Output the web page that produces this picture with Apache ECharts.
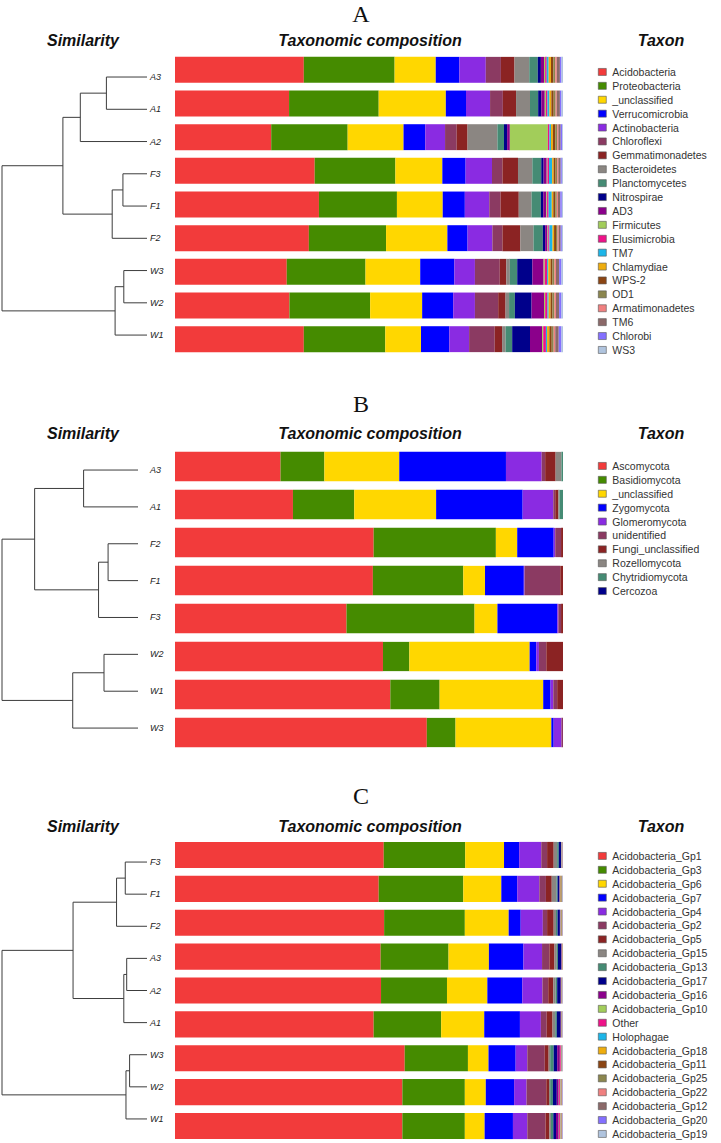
<!DOCTYPE html>
<html>
<head>
<meta charset="utf-8">
<script src="https://cdn.jsdelivr.net/npm/echarts@6/dist/echarts.min.js"></script>
<style>
html,body{margin:0;padding:0;background:#fff;}
#c{width:721px;height:1143px;}
</style>
</head>
<body>
<div id="c"></div>
<script>
// ---------- DATA ----------
const samplesA = ['A3','A1','A2','F3','F1','F2','W3','W2','W1'];
const taxaA = ['Acidobacteria','Proteobacteria','_unclassified','Verrucomicrobia','Actinobacteria','Chloroflexi','Gemmatimonadetes','Bacteroidetes','Planctomycetes','Nitrospirae','AD3','Firmicutes','Elusimicrobia','TM7','Chlamydiae','WPS-2','OD1','Armatimonadetes','TM6','Chlorobi','WS3'];
// rows follow samplesA, columns follow taxaA (relative abundance, %)
const compA = [
  [33.2,23.4,10.6,6.1,6.8,3.9,3.5,3.8,2.2,0.8,0.8,0.3,0.4,0.5,0.6,0.6,0.5,0.4,0.8,0.4,0.4],
  [29.4,23.1,17.3,5.2,6.2,3.3,3.4,3.6,2.1,0.8,0.9,0.3,0.4,0.5,0.5,0.6,0.5,0.3,0.8,0.4,0.4],
  [24.8,19.7,14.4,5.6,5.1,3.0,2.8,7.7,1.7,0.8,0.7,9.8,0.4,0.4,0.5,0.6,0.5,0.3,0.6,0.4,0.2],
  [36.0,20.8,12.1,6.0,6.8,2.7,4.0,3.7,2.3,0.6,0.8,0.2,0.4,0.8,0.4,0.5,0.4,0.3,0.6,0.3,0.3],
  [37.1,20.1,11.8,5.7,6.3,2.9,4.7,3.3,2.4,0.6,0.8,0.2,0.4,0.8,0.4,0.5,0.4,0.3,0.6,0.4,0.3],
  [34.5,19.9,15.8,5.2,6.4,2.6,4.6,3.4,2.4,0.6,0.6,0.2,0.3,0.8,0.4,0.5,0.4,0.3,0.5,0.3,0.3],
  [28.8,20.3,14.1,8.8,5.3,6.4,1.7,0.9,1.9,3.9,2.9,0.3,0.6,0.3,0.6,0.5,0.5,0.4,0.8,0.6,0.4],
  [29.5,20.8,13.4,8.0,5.6,6.0,1.9,0.9,1.5,4.3,3.2,0.3,0.6,0.3,0.5,0.5,0.5,0.4,0.8,0.6,0.4],
  [33.2,21.0,9.2,7.3,5.1,6.6,1.9,0.9,1.7,4.6,3.1,0.3,0.7,0.3,0.6,0.6,0.5,0.4,0.9,0.7,0.4]
];
// dendrogram merges: [child, child, height]; '#k' = k-th merge
const treeA = [['A3','A1',0.28],['#0','A2',0.46],['F3','F1',0.166],['#2','F2',0.24],['#1','#3',0.58],['W3','W2',0.16],['#5','W1',0.22],['#4','#6',1.0]];

const samplesB = ['A3','A1','F2','F1','F3','W2','W1','W3'];
const taxaB = ['Ascomycota','Basidiomycota','_unclassified','Zygomycota','Glomeromycota','unidentified','Fungi_unclassified','Rozellomycota','Chytridiomycota','Cercozoa'];
const compB = [
  [27.2,11.3,19.3,27.5,9.2,0.9,2.7,1.5,0.4,0],
  [30.4,15.8,21.1,22.3,7.9,0.5,0.8,0.3,0.9,0],
  [51.2,31.5,5.5,9.4,0.4,1.5,0.5,0,0,0],
  [51.0,23.3,5.6,10.0,0.2,9.2,0.7,0,0,0],
  [44.2,33.0,5.9,15.4,0.3,0.7,0.5,0,0,0],
  [53.6,6.8,31.0,1.7,0.7,1.9,4.3,0,0,0],
  [55.5,12.7,26.7,1.9,0.7,1.0,1.5,0,0,0],
  [64.9,7.4,24.7,0.6,2.0,0.4,0,0,0,0]
];
const treeB = [['A3','A1',0.40],['F2','F1',0.22],['#1','F3',0.29],['#0','#2',0.76],['W2','W1',0.25],['#4','W3',0.48],['#3','#5',1.0]];

const samplesC = ['F3','F1','F2','A3','A2','A1','W3','W2','W1'];
const taxaC = ['Acidobacteria_Gp1','Acidobacteria_Gp3','Acidobacteria_Gp6','Acidobacteria_Gp7','Acidobacteria_Gp4','Acidobacteria_Gp2','Acidobacteria_Gp5','Acidobacteria_Gp15','Acidobacteria_Gp13','Acidobacteria_Gp17','Acidobacteria_Gp16','Acidobacteria_Gp10','Other','Holophagae','Acidobacteria_Gp18','Acidobacteria_Gp11','Acidobacteria_Gp25','Acidobacteria_Gp22','Acidobacteria_Gp12','Acidobacteria_Gp20','Acidobacteria_Gp19'];
const compC = [
  [53.8,21.0,10.0,3.9,5.7,1.5,1.7,0.9,0.4,0.6,0.05,0.05,0.05,0.05,0.05,0.05,0.05,0.05,0.05,0.03,0.02],
  [52.5,21.8,9.8,4.1,5.7,1.7,1.5,1.2,0.3,0.5,0.05,0.05,0.05,0.05,0.1,0.1,0.2,0.05,0.1,0.05,0.1],
  [53.9,20.8,11.3,3.1,5.7,1.1,1.7,0.6,0.4,0.6,0.1,0.05,0.05,0.05,0.1,0.1,0.1,0.05,0.1,0.05,0.05],
  [53.0,17.5,10.4,8.9,4.8,1.9,1.3,0.6,0.3,0.9,0.05,0.05,0.05,0.05,0.05,0.05,0.05,0.05,0,0,0],
  [53.1,17.0,10.4,9.0,5.2,1.5,1.3,0.6,0.4,0.9,0.1,0.05,0.05,0.05,0.05,0.05,0.05,0.05,0.05,0.05,0.05],
  [51.2,17.4,11.1,9.2,5.4,1.5,1.5,0.7,0.4,1.0,0.1,0.05,0.05,0.05,0.05,0.05,0.05,0.05,0.05,0.05,0.05],
  [59.2,16.3,5.3,7.0,3.0,4.5,1.0,0.4,0.9,0.9,0.7,0.1,0.2,0.1,0.05,0.05,0.05,0.1,0.05,0.05,0.05],
  [58.6,16.1,5.4,7.3,3.2,5.1,0.7,0.3,0.7,1.0,0.5,0.1,0.3,0.1,0.1,0.1,0.1,0.1,0.05,0.1,0.05],
  [58.6,16.1,5.1,7.3,3.7,4.7,1.0,0.4,0.6,0.7,0.7,0.1,0.3,0.1,0.1,0.1,0.1,0.1,0.05,0.1,0.05]
];
const treeC = [['F3','F1',0.15],['#0','F2',0.21],['A3','A2',0.14],['#2','A1',0.16],['#1','#3',0.51],['W3','W2',0.12],['#5','W1',0.145],['#4','#6',1.0]];

const palette = ['#F23B3B','#458B00','#FFD700','#0000FF','#8A2BE2','#8B3A62','#8B2323','#8B8682','#458B74','#00008B','#8B008B','#A2CD5A','#EE1289','#1CB5E8','#EEAD0E','#8B4513','#8B864E','#F08080','#8B6969','#8470FF','#B0C4DE'];

// ---------- LAYOUT ----------
const panels = [
  {samples:samplesA, taxa:taxaA, comp:compA, tree:treeA, bar:{top:53, height:303}, den:{left:2, width:145, top:60.9, height:290.3, margin:3}, legendTop:65, letter:'A', letterY:14, headY:40},
  {samples:samplesB, taxa:taxaB, comp:compB, tree:treeB, bar:{top:447.5, height:304}, den:{left:2, width:136, top:451.6, height:294.9, margin:12}, legendTop:459, letter:'B', letterY:404, headY:433},
  {samples:samplesC, taxa:taxaC, comp:compC, tree:treeC, bar:{top:838, height:305}, den:{left:2, width:145, top:846, height:289, margin:3}, legendTop:849, letter:'C', letterY:796, headY:826}
];

function dendroSegments(samples, tree){
  const nodes = [];
  const get = k => k.charAt(0)==='#' ? nodes[+k.slice(1)] : {y:samples.indexOf(k), h:0};
  const segs = [];
  tree.forEach(([a,b,h])=>{
    const na=get(a), nb=get(b);
    segs.push([na.h, na.y, nb.h, nb.y, h]);
    nodes.push({y:(na.y+nb.y)/2, h:h});
  });
  return segs;
}

const grid=[], xAxis=[], yAxis=[], series=[], legend=[], graphic=[];
const hdrFont = {fontSize:16, fontWeight:'bold', fontStyle:'italic', fontFamily:'"Liberation Sans", Arial, sans-serif', fill:'#111', align:'center', verticalAlign:'middle'};

panels.forEach((p, pi)=>{
  // dendrogram grid
  const gD = grid.length;
  grid.push({left:p.den.left, width:p.den.width, top:p.den.top, height:p.den.height});
  const xD = xAxis.length;
  xAxis.push({type:'value', gridIndex:gD, min:0, max:1, inverse:true, show:false});
  const yDv = yAxis.length;
  yAxis.push({type:'value', gridIndex:gD, min:-0.5, max:p.samples.length-0.5, inverse:true, show:false});
  yAxis.push({type:'category', gridIndex:gD, data:p.samples, inverse:true, position:'right',
    axisLine:{show:false}, axisTick:{show:false}, splitLine:{show:false},
    axisLabel:{margin:p.den.margin, fontSize:9, fontStyle:'italic', color:'#222', fontFamily:'"Liberation Sans", Arial, sans-serif'}});
  series.push({
    type:'custom', xAxisIndex:xD, yAxisIndex:yDv, silent:true, animation:false, clip:false,
    encode:{x:[0,2,4], y:[1,3]},
    data: dendroSegments(p.samples, p.tree),
    renderItem:(params, api)=>{
      const a=api.coord([api.value(0), api.value(1)]);
      const b=api.coord([api.value(4), api.value(1)]);
      const c=api.coord([api.value(4), api.value(3)]);
      const d=api.coord([api.value(2), api.value(3)]);
      return {type:'polyline', shape:{points:[a,b,c,d]}, style:{stroke:'#3c3c3c', lineWidth:1, fill:null}};
    }
  });

  // bar grid
  const gB = grid.length;
  grid.push({left:175, width:388, top:p.bar.top, height:p.bar.height});
  const xB = xAxis.length;
  xAxis.push({type:'value', gridIndex:gB, min:0, max:100, show:false});
  const yB = yAxis.length;
  yAxis.push({type:'category', gridIndex:gB, data:p.samples, inverse:true, show:false});
  p.taxa.forEach((t, j)=>{
    series.push({
      type:'bar', name:t, stack:'s'+pi, xAxisIndex:xB, yAxisIndex:yB,
      barCategoryGap:'23%', animation:false,
      emphasis:{disabled:true},
      itemStyle:{color:palette[j]},
      data:p.comp.map(r=>r[j])
    });
  });

  legend.push({
    orient:'vertical', left:598, top:p.legendTop, padding:0, data:p.taxa, icon:'rect',
    itemWidth:8, itemHeight:7, itemGap:0, selectedMode:false,
    itemStyle:{borderColor:'#555', borderWidth:0.6},
    textStyle:{fontSize:10.5, lineHeight:13.9, color:'#333', padding:[0,0,0,1], fontFamily:'"Liberation Sans", Arial, sans-serif'}
  });

  graphic.push({type:'text', x:361, y:p.letterY, style:{text:p.letter, fontSize:24, fontFamily:'"Liberation Serif", "Times New Roman", serif', fill:'#111', align:'center', verticalAlign:'middle'}});
  graphic.push({type:'text', x:83, y:p.headY, style:Object.assign({text:'Similarity'}, hdrFont)});
  graphic.push({type:'text', x:370, y:p.headY, style:Object.assign({text:'Taxonomic composition'}, hdrFont)});
  graphic.push({type:'text', x:661, y:p.headY, style:Object.assign({text:'Taxon'}, hdrFont)});
});

const chart = echarts.init(document.getElementById('c'), null, {renderer:'svg', width:721, height:1143});
chart.setOption({
  backgroundColor:'#fff',
  animation:false,
  grid, xAxis, yAxis, series, legend, graphic,
  tooltip:{show:false}
});
</script>
</body>
</html>
